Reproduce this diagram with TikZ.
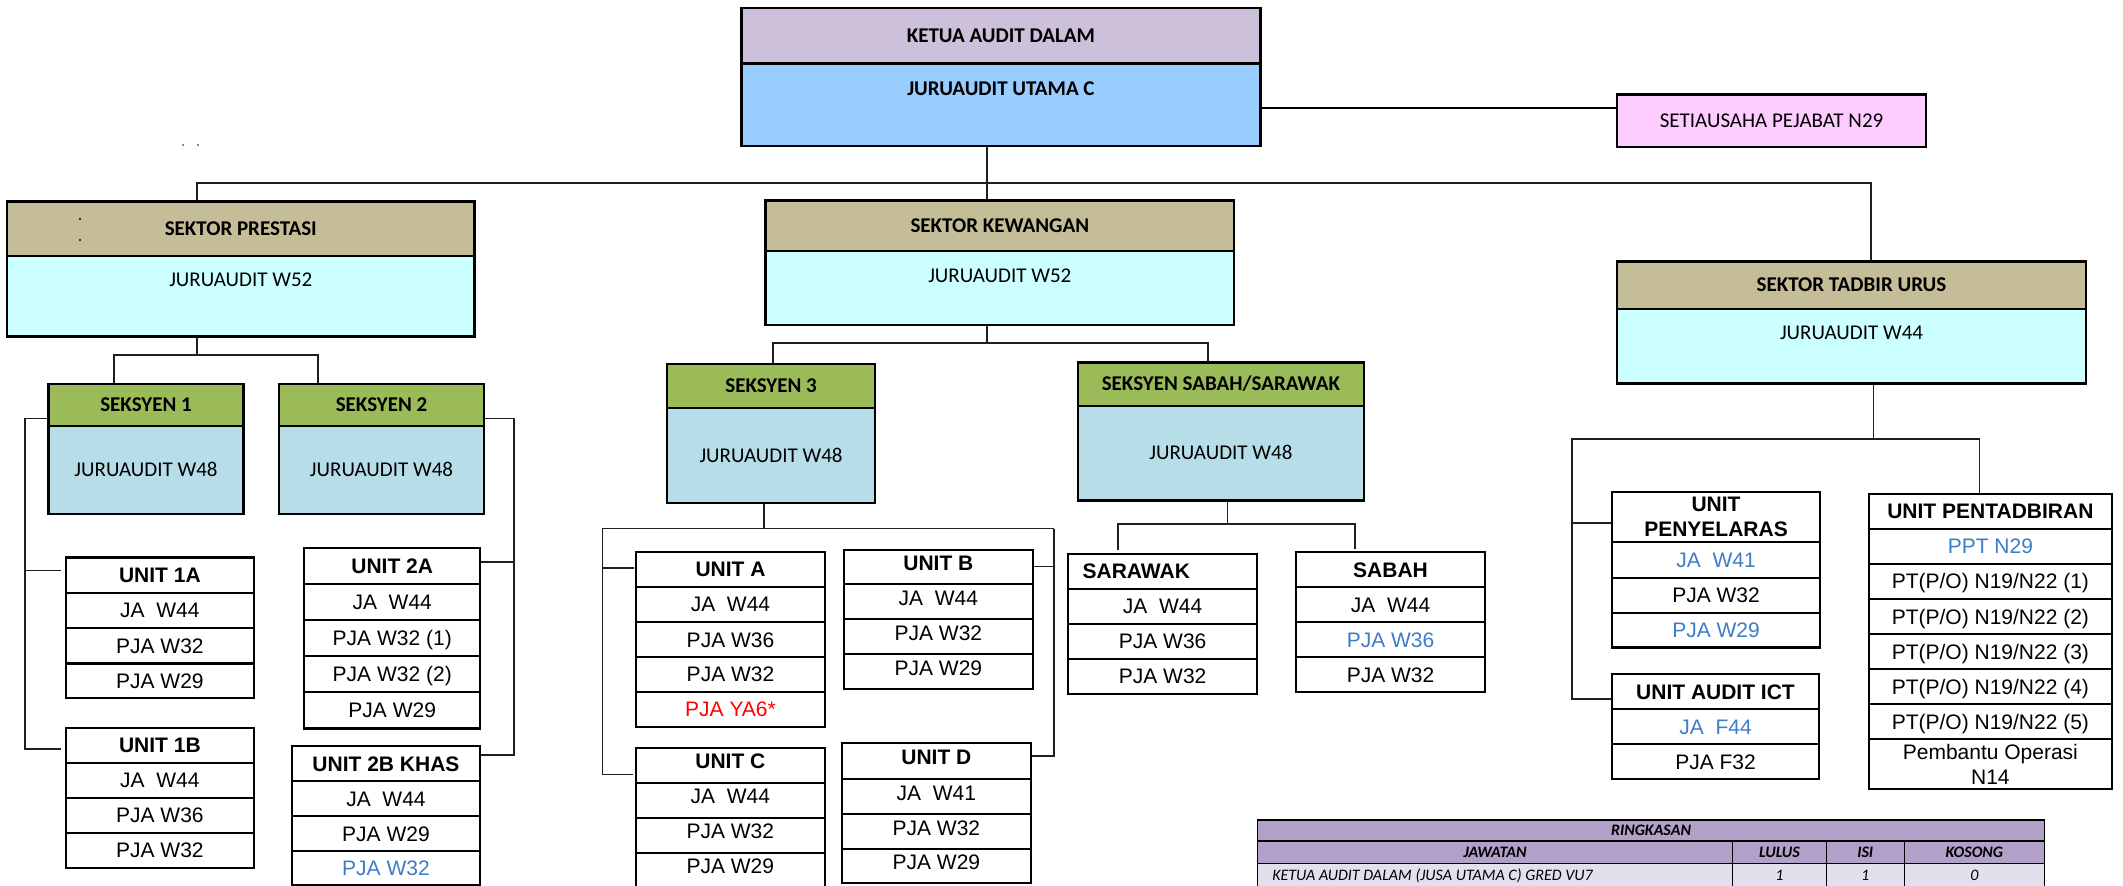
\documentclass[tikz,border=0pt]{standalone}
\usepackage{fontspec}
\setmainfont{Liberation Sans}
\newfontfamily\calfont{Carlito}
\usetikzlibrary{backgrounds}
\definecolor{klav}{HTML}{CCC0DA}
\definecolor{kblue}{HTML}{99CCFF}
\definecolor{spink}{HTML}{FFCCFF}
\definecolor{stan}{HTML}{C4BD97}
\definecolor{scyan}{HTML}{CCFFFF}
\definecolor{sgreen}{HTML}{9BBB59}
\definecolor{sblue}{HTML}{B7DEE8}
\definecolor{jblue}{HTML}{3D7DC8}
\definecolor{tpur}{HTML}{B1A0C7}
\definecolor{tlav}{HTML}{E4DFEC}
\newcommand\bx[7][]{\node[#1,minimum width={(#4)-(#3)},minimum height={(#6)-(#5)}] (#2) at ({((#3)+(#4))/2},{((#5)+(#6))/2}) {#7};}
\tikzset{
  cellbase/.style={draw=black, line width=2.2pt, fill=white, inner sep=0pt, outer sep=0pt, font=\fontsize{21}{25}\selectfont},
  cell/.style={cellbase, text height=15pt, text depth=0pt},
  mcell/.style={cellbase, align=center},
  ttl/.style={font=\bfseries\fontsize{21}{25}\selectfont},
  blu/.style={text=jblue},
  txtup/.style={text depth=8pt},
  hdr/.style={draw=black, line width=2.4pt, inner sep=0pt, outer sep=0pt, font=\calfont\bfseries\fontsize{21}{25}\selectfont, text height=13.5pt, text depth=0pt},
  hbody/.style={draw=black, line width=2.4pt, inner sep=0pt, outer sep=0pt, font=\calfont\fontsize{21}{25}\selectfont, text height=13.5pt, text depth=0pt},
  htxt/.style={inner sep=0pt, font=\calfont\fontsize{21}{25}\selectfont, text height=13.5pt, text depth=0pt},
  tcell/.style={draw=black, line width=1.4pt, inner sep=0pt, outer sep=0pt, font=\calfont\itshape\fontsize{16}{19}\selectfont, text height=10.3pt, text depth=0pt},
  tb/.style={font=\calfont\bfseries\itshape\fontsize{16}{19}\selectfont},
  conn/.style={draw=black!88, line width=1.8pt},
}
\begin{document}
\begin{tikzpicture}[x=1pt,y=-1pt]
\useasboundingbox (0,0) rectangle (2123,886);
% top
\bx[hdr,fill=klav]{ketT}{741.5}{1260.3}{8}{63.3}{KETUA AUDIT DALAM}
\bx[hbody,fill=kblue]{ketB}{741.5}{1260.3}{63.3}{146}{}
\node[htxt,font=\calfont\bfseries\fontsize{21}{25}\selectfont] (ketBt) at (1000.9,89) {JURUAUDIT UTAMA C};
\bx[hbody,fill=spink]{sec}{1617}{1926}{94.3}{146.7}{SETIAUSAHA PEJABAT N29}
% sectors
\bx[hdr,fill=stan]{preT}{7}{474.6}{201.3}{255.7}{SEKTOR PRESTASI}
\bx[hbody,fill=scyan]{preB}{7}{474.6}{255.7}{336.3}{}
\node[htxt] (preBt) at (240.8,280) {JURUAUDIT W52};
\bx[hdr,fill=stan]{kewT}{765.6}{1234}{200.3}{251}{SEKTOR KEWANGAN}
\bx[hbody,fill=scyan]{kewB}{765.6}{1234}{251}{325}{}
\node[htxt] (kewBt) at (999.8,276) {JURUAUDIT W52};
\bx[hdr,fill=stan]{tadT}{1617}{2086}{261.3}{309}{SEKTOR TADBIR URUS}
\bx[hbody,fill=scyan]{tadB}{1617}{2086}{309}{383.3}{}
\node[htxt] (tadBt) at (1851.5,333) {JURUAUDIT W44};
% seksyen
\bx[hdr,fill=sgreen]{s1T}{48.6}{243.4}{384.2}{425.9}{SEKSYEN 1}
\bx[hbody,fill=sblue]{s1B}{48.6}{243.4}{425.9}{514.1}{JURUAUDIT W48}
\bx[hdr,fill=sgreen]{s2T}{279}{484}{384.2}{425.9}{SEKSYEN 2}
\bx[hbody,fill=sblue]{s2B}{279}{484}{425.9}{514.1}{JURUAUDIT W48}
\bx[hdr,fill=sgreen]{s3T}{667.2}{874.9}{363.7}{408.1}{SEKSYEN 3}
\bx[hbody,fill=sblue]{s3B}{667.2}{874.9}{408.1}{502.8}{JURUAUDIT W48}
\bx[hdr,fill=sgreen]{ssT}{1078}{1363.7}{362.3}{405.7}{SEKSYEN SABAH/SARAWAK}
\bx[hbody,fill=sblue]{ssB}{1078}{1363.7}{405.7}{500.4}{JURUAUDIT W48}
% stray dots
\fill[black!70] (183,145) circle (1);
\fill[blue!50!black] (198,145) circle (0.9);
\fill[black] (80,219) circle (1.2);
\fill[black] (80,240) circle (1.2);
% UNIT 1A
\bx[cell,ttl]{u1a-1}{65.8}{254}{557.5}{592.7}{UNIT 1A}
\bx[cell]{u1a-2}{65.8}{254}{592.7}{628}{JA\ \ W44}
\bx[cell]{u1a-3}{65.8}{254}{628}{663.5}{PJA W32}
\bx[cell]{u1a-4}{65.8}{254}{663.5}{698}{PJA W29}
% UNIT 1B
\bx[cell,ttl]{u1b-1}{65.8}{254}{727.8}{762.6}{UNIT 1B}
\bx[cell]{u1b-2}{65.8}{254}{762.6}{797.9}{JA\ \ W44}
\bx[cell]{u1b-3}{65.8}{254}{797.9}{832.7}{PJA W36}
\bx[cell]{u1b-4}{65.8}{254}{832.7}{868}{PJA W32}
% UNIT 2A
\bx[cell,ttl]{u2a-1}{304.2}{480.3}{547.6}{584.2}{UNIT 2A}
\bx[cell]{u2a-2}{304.2}{480.3}{584.2}{620.1}{JA\ \ W44}
\bx[cell]{u2a-3}{304.2}{480.3}{620.1}{656.3}{PJA W32 (1)}
\bx[cell]{u2a-4}{304.2}{480.3}{656.3}{691.9}{PJA W32 (2)}
\bx[cell]{u2a-5}{304.2}{480.3}{691.9}{728.5}{PJA W29}
% UNIT 2B KHAS
\bx[cell,ttl]{u2b-1}{291.7}{480.3}{746}{781}{UNIT 2B KHAS}
\bx[cell]{u2b-2}{291.7}{480.3}{781}{816}{JA\ \ W44}
\bx[cell]{u2b-3}{291.7}{480.3}{816}{851}{PJA W29}
\bx[cell,blu]{u2b-4}{291.7}{480.3}{851}{885}{PJA W32}
% UNIT A
\bx[cell,ttl]{ua-1}{636}{825}{551.7}{586.6}{UNIT A}
\bx[cell]{ua-2}{636}{825}{586.6}{622.1}{JA\ \ W44}
\bx[cell]{ua-3}{636}{825}{622.1}{657}{PJA W36}
\bx[cell]{ua-4}{636}{825}{657}{691.9}{PJA W32}
\bx[cell,text=red]{ua-5}{636}{825}{691.9}{727}{PJA YA6*}
% UNIT B
\bx[cell,ttl,txtup]{ub-1}{843.8}{1033}{549.7}{584.2}{UNIT B}
\bx[cell,txtup]{ub-2}{843.8}{1033}{584.2}{619.1}{JA\ \ W44}
\bx[cell,txtup]{ub-3}{843.8}{1033}{619.1}{654.3}{PJA W32}
\bx[cell,txtup]{ub-4}{843.8}{1033}{654.3}{689.1}{PJA W29}
% UNIT C
\bx[cell,ttl,txtup]{uc-1}{635.7}{825}{747.7}{782.7}{UNIT C}
\bx[cell,txtup]{uc-2}{635.7}{825}{782.7}{817.7}{JA\ \ W44}
\bx[cell,txtup]{uc-3}{635.7}{825}{817.7}{852.9}{PJA W32}
\bx[cell,txtup]{uc-4}{635.7}{825}{852.9}{888}{PJA W29}
% UNIT D
\bx[cell,ttl,txtup]{ud-1}{841.7}{1031}{743.3}{779}{UNIT D}
\bx[cell,txtup]{ud-2}{841.7}{1031}{779}{814}{JA\ \ W41}
\bx[cell,txtup]{ud-3}{841.7}{1031}{814}{849.3}{PJA W32}
\bx[cell,txtup]{ud-4}{841.7}{1031}{849.3}{883.3}{PJA W29}
% SARAWAK
\bx[cell]{sar-1}{1068.3}{1257}{554}{588.6}{}
\node[cell,ttl,draw=none,fill=none,anchor=west] (sar-1t) at (1082.6,571.3) {SARAWAK};
\bx[cell]{sar-2}{1068.3}{1257}{588.6}{623.8}{JA\ \ W44}
\bx[cell]{sar-3}{1068.3}{1257}{623.8}{658.7}{PJA W36}
\bx[cell]{sar-4}{1068.3}{1257}{658.7}{693.6}{PJA W32}
% SABAH
\bx[cell,ttl]{sab-1}{1295.7}{1485.3}{552}{587.3}{SABAH}
\bx[cell]{sab-2}{1295.7}{1485.3}{587.3}{622.3}{JA\ \ W44}
\bx[cell,blu]{sab-3}{1295.7}{1485.3}{622.3}{657}{PJA W36}
\bx[cell]{sab-4}{1295.7}{1485.3}{657}{692}{PJA W32}
% UNIT PENYELARAS
\bx[mcell,ttl]{upy-1}{1612}{1820}{491.7}{541.7}{UNIT\\PENYELARAS}
\bx[cell,blu]{upy-2}{1612}{1820}{541.7}{578}{JA\ \ W41}
\bx[cell]{upy-3}{1612}{1820}{578}{612.7}{PJA W32}
\bx[cell,blu]{upy-4}{1612}{1820}{612.7}{647.5}{PJA W29}
% UNIT AUDIT ICT
\bx[cell,ttl]{ict-1}{1612}{1819}{674}{709}{UNIT AUDIT ICT}
\bx[cell,blu]{ict-2}{1612}{1819}{709}{744}{JA\ \ F44}
\bx[cell]{ict-3}{1612}{1819}{744}{779}{PJA F32}
% UNIT PENTADBIRAN
\bx[cell,ttl]{upt-1}{1868.8}{2111.9}{494}{528.7}{UNIT PENTADBIRAN}
\bx[cell,blu]{upt-2}{1868.8}{2111.9}{528.7}{563.7}{PPT N29}
\bx[cell]{upt-3}{1868.8}{2111.9}{563.7}{599}{PT(P/O) N19/N22 (1)}
\bx[cell]{upt-4}{1868.8}{2111.9}{599}{634}{PT(P/O) N19/N22 (2)}
\bx[cell]{upt-5}{1868.8}{2111.9}{634}{669.3}{PT(P/O) N19/N22 (3)}
\bx[cell]{upt-6}{1868.8}{2111.9}{669.3}{704.3}{PT(P/O) N19/N22 (4)}
\bx[cell]{upt-7}{1868.8}{2111.9}{704.3}{739.3}{PT(P/O) N19/N22 (5)}
\bx[mcell]{upt-8}{1868.8}{2111.9}{739.3}{788.7}{Pembantu Operasi\\N14}
% summary table
\bx[tcell,tb,fill=tpur]{tR}{1257.5}{2044.5}{820}{841}{RINGKASAN}
\bx[tcell,tb,fill=tpur]{tJ}{1257.5}{1732.7}{841}{863.3}{JAWATAN}
\bx[tcell,tb,fill=tpur]{tL}{1732.7}{1826.3}{841}{863.3}{LULUS}
\bx[tcell,tb,fill=tpur]{tI}{1826.3}{1904.2}{841}{863.3}{ISI}
\bx[tcell,tb,fill=tpur]{tK}{1904.2}{2044.5}{841}{863.3}{KOSONG}
\bx[tcell,fill=tlav]{r1J}{1257.5}{1732.7}{863.3}{888}{}
\node[tcell,draw=none,anchor=west] (r1Jt) at (1272.3,875.6) {KETUA AUDIT DALAM (JUSA UTAMA C) GRED VU7};
\bx[tcell,fill=tlav]{r1L}{1732.7}{1826.3}{863.3}{888}{1}
\bx[tcell,fill=tlav]{r1I}{1826.3}{1904.2}{863.3}{888}{1}
\bx[tcell,fill=tlav]{r1K}{1904.2}{2044.5}{863.3}{888}{0}
\draw[line width=2.2pt] (tR.north west) -- (tR.north east);
% connectors
\begin{pgfonlayer}{background}
\coordinate (jsec) at (1260,108.3);
\draw[conn,draw=black,line width=2.2pt] (ketB.east |- jsec) -- (sec.west |- jsec);
\coordinate (jk0) at (987,183);
\coordinate (jpre) at (197.3,183);
\coordinate (jtad) at (1871,183);
\draw[conn] (ketB.south -| jk0) -- (kewT.north -| jk0);
\draw[conn] (preT.north -| jpre) -- (jpre) -- (jtad) -- (tadT.north -| jtad);
% prestasi
\coordinate (jp) at (197.3,355.1);
\coordinate (jp1) at (113.7,355.1);
\coordinate (jp2) at (318,355.1);
\draw[conn] (preB.south -| jp) -- (jp);
\draw[conn] (s1T.north -| jp1) -- (jp1) -- (jp2) -- (s2T.north -| jp2);
\coordinate (b1) at (24.9,418.4);
\coordinate (b1a) at (24.9,570.5);
\coordinate (b1b) at (24.9,749.3);
\draw[conn,shorten >=5pt] (s1T.west |- b1) -- (b1) -- (b1b) -- (u1b-1.west |- b1b);
\draw[conn,shorten >=5pt] (b1a) -- (u1a-1.west |- b1a);
\coordinate (b2) at (514,418.4);
\coordinate (b2a) at (514,562);
\coordinate (b2b) at (514,755.1);
\draw[conn] (s2T.east |- b2) -- (b2) -- (b2b) -- (u2b-1.east |- b2b);
\draw[conn] (u2a-1.east |- b2a) -- (b2a);
% kewangan
\coordinate (jk) at (987,343);
\coordinate (jk1) at (772.9,343);
\coordinate (jk2) at (1207.6,343);
\draw[conn] (kewB.south -| jk) -- (jk);
\draw[conn] (s3T.north -| jk1) -- (jk1) -- (jk2) -- (ssT.north -| jk2);
\coordinate (j3) at (763.7,528.5);
\coordinate (j3l) at (602.4,528.5);
\coordinate (j3r) at (1054,528.5);
\coordinate (j3a) at (602.4,568.1);
\coordinate (j3c) at (602.4,774.5);
\coordinate (j3b) at (1054,566.4);
\coordinate (j3d) at (1054,756);
\draw[conn] (s3B.south -| j3) -- (j3);
\draw[conn,shorten >=3pt] (j3r) -- (j3l) -- (j3c) -- (uc-1.west |- j3c);
\draw[conn,shorten >=2pt] (j3a) -- (ua-1.west |- j3a);
\draw[conn] (j3r) -- (j3d) -- (ud-1.east |- j3d);
\draw[conn] (ub-1.east |- j3b) -- (j3b);
\coordinate (jss) at (1227.4,523.7);
\coordinate (jss1) at (1118.3,523.7);
\coordinate (jss2) at (1355.3,523.7);
\draw[conn] (ssB.south -| jss) -- (jss);
\draw[conn,shorten <=4pt,shorten >=3pt] (sar-1.north -| jss1) -- (jss1) -- (jss2) -- (sab-1.north -| jss2);
% tadbir
\coordinate (jt) at (1873.5,439);
\coordinate (jtl) at (1571.8,439);
\coordinate (jtr) at (1979.4,439);
\coordinate (jtp) at (1571.8,522.7);
\coordinate (jti) at (1571.8,699);
\draw[conn] (tadB.south -| jt) -- (jt);
\draw[conn] (upt-1.north -| jtr) -- (jtr) -- (jtl) -- (jti) -- (ict-1.west |- jti);
\draw[conn] (jtp) -- (upy-1.west |- jtp);
\end{pgfonlayer}
\end{tikzpicture}
\end{document}
